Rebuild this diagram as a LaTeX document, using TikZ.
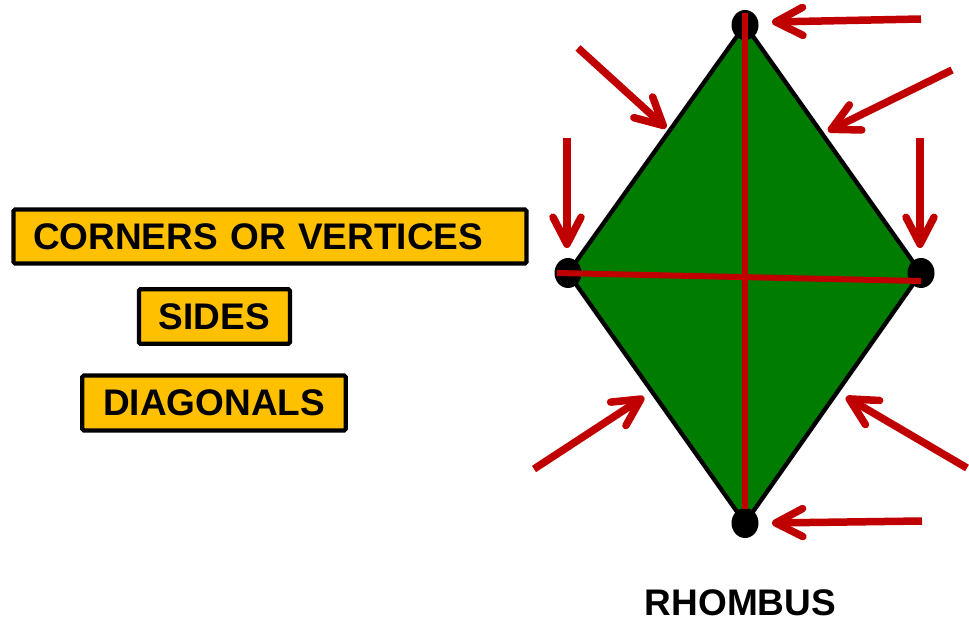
\documentclass[tikz,border=0pt]{standalone}
\usepackage{fontspec}
\setmainfont{Liberation Sans}
\usetikzlibrary{arrows.meta,shapes.geometric}
\definecolor{rred}{RGB}{192,0,0}
\definecolor{rgreen}{RGB}{0,125,0}
\definecolor{rorange}{RGB}{255,192,0}
\begin{document}
\begin{tikzpicture}[x=1pt,y=-1pt,
  lbl/.style={draw=black, line width=4.2pt, fill=rorange, rounded corners=1.5pt,
    font=\fontsize{37}{40}\selectfont\bfseries, inner sep=0pt},
  pointer/.style={draw=rred, line width=7.5pt, line cap=butt,
    -{Straight Barb[length=27pt,width=28pt,round]}},
  diag/.style={draw=rred, line width=6pt},
  vdot/.style={ellipse, fill=black, minimum width=27pt, minimum height=30pt, inner sep=0pt},
  title/.style={font=\fontsize{37}{40}\selectfont\bfseries, inner sep=0pt}]
\useasboundingbox (0,0) rectangle (969,620);

% rhombus
\coordinate (T) at (745,25);
\coordinate (L) at (568,273);
\coordinate (R) at (921,273);
\coordinate (B) at (745,523);
\draw[fill=rgreen, line width=4.3pt, line join=round] (T) -- (R) -- (B) -- (L) -- cycle;

\node[vdot] (vT) at (T) {};
\node[vdot] (vL) at (L) {};
\node[vdot] (vR) at (R) {};
\node[vdot] (vB) at (B) {};

% diagonals
\coordinate (dT) at (745,13);
\coordinate (dB) at (745,509);
\coordinate (dL) at (557,273);
\coordinate (dR) at (921,281);
\draw[diag] (dT) -- (dB);
\draw[diag] (dL) -- (dR);

% arrows
\coordinate (a1s) at (921,19);  \coordinate (a1e) at (772,22);
\coordinate (a2s) at (578,48);  \coordinate (a2e) at (666,128);
\coordinate (a3s) at (952,70);  \coordinate (a3e) at (828,131);
\coordinate (a4s) at (567,138); \coordinate (a4e) at (567,248);
\coordinate (a5s) at (920,138); \coordinate (a5e) at (920,248);
\coordinate (a6s) at (534,469); \coordinate (a6e) at (644,397);
\coordinate (a7s) at (967,468); \coordinate (a7e) at (846,397);
\coordinate (a8s) at (922,521); \coordinate (a8e) at (772,523);
\draw[pointer] (a1s) -- (a1e);
\draw[pointer] (a2s) -- (a2e);
\draw[pointer] (a3s) -- (a3e);
\draw[pointer] (a4s) -- (a4e);
\draw[pointer] (a5s) -- (a5e);
\draw[pointer] (a6s) -- (a6e);
\draw[pointer] (a7s) -- (a7e);
\draw[pointer] (a8s) -- (a8e);

% labels
\node[lbl, minimum height=54pt, text width=474pt, inner xsep=19.5pt, align=left] (corners) at (270,236.5) {CORNERS OR VERTICES};
\node[lbl, minimum width=151pt, minimum height=54.5pt] (sides) at (214.4,316.5) {SIDES};
\node[lbl, minimum width=263.4pt, minimum height=55pt] (diags) at (214,403) {DIAGONALS};

\node[title, anchor=base] (rh) at (740.5,615) {RHOMBUS};
\end{tikzpicture}
\end{document}
